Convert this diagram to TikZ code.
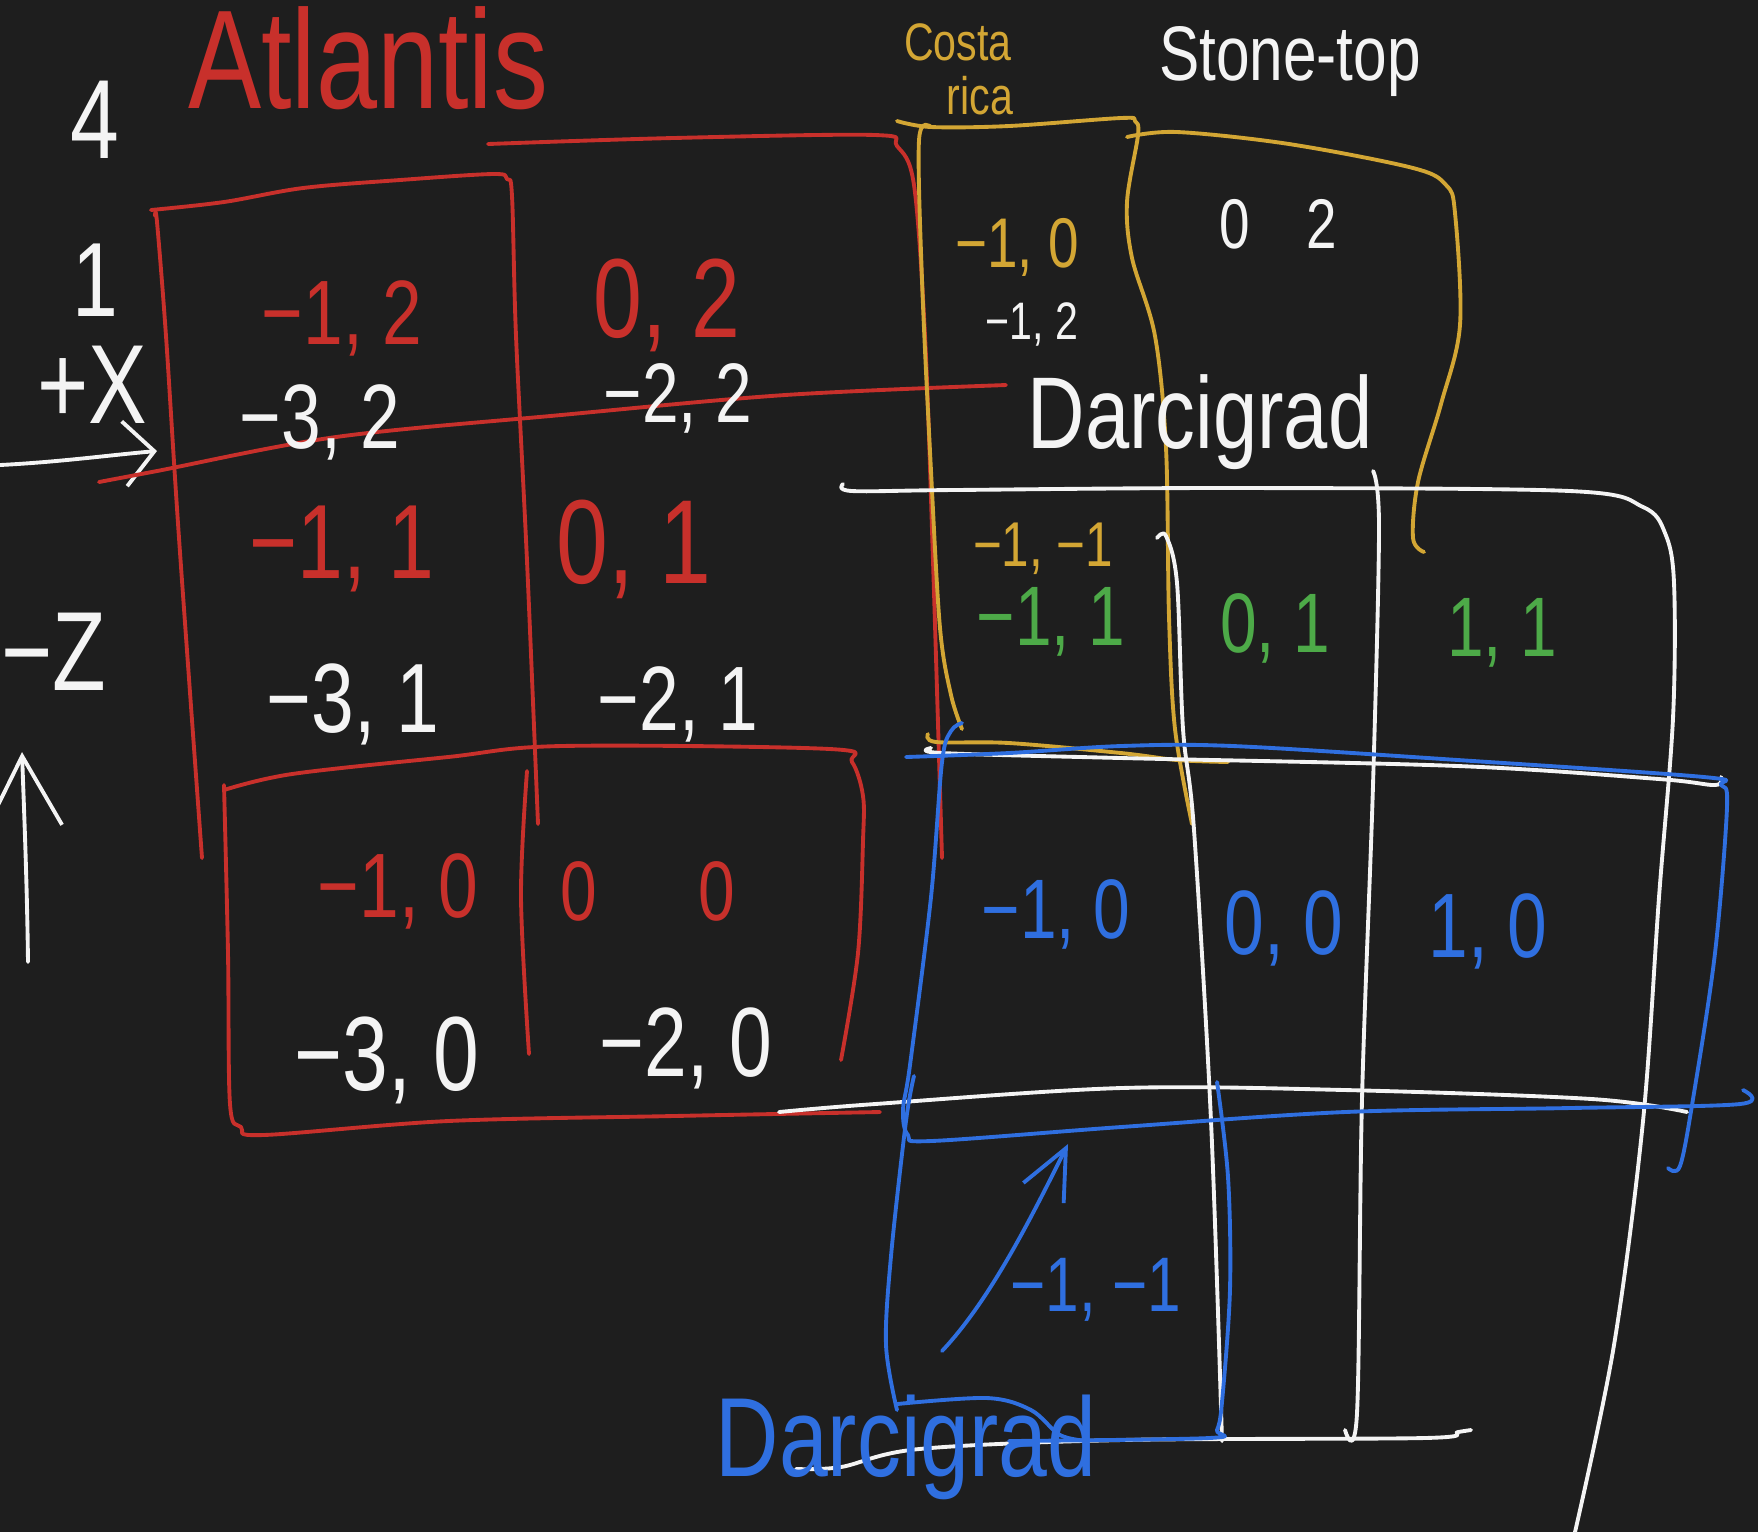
\documentclass[tikz,border=0pt]{standalone}
\usepackage{fontspec}
\newfontfamily\hand[FakeStretch=0.78]{Liberation Sans}
\newcommand{\inksize}[1]{\fontsize{#1}{#1}\selectfont}
\usetikzlibrary{arrows.meta}
\definecolor{board}{HTML}{1E1E1E}
\definecolor{penred}{HTML}{C8302B}
\definecolor{pengold}{HTML}{D3A634}
\definecolor{pengreen}{HTML}{4DAA48}
\definecolor{penblue}{HTML}{2F6FE0}
\definecolor{penwhite}{HTML}{F4F4F4}
\begin{document}
\begin{tikzpicture}[x=0.01cm, y=-0.01cm, % 一个单位 = 参考图的一个像素
    every node/.style={inner sep=0pt}, % 文字节点不留边距
    inkline/.style={line width=1.1pt, line cap=round, line join=round},
    redline/.style={inkline, draw=penred},
    goldline/.style={inkline, draw=pengold},
    blueline/.style={inkline, draw=penblue},
    whiteline/.style={inkline, draw=penwhite},
    lbl/.style={font={\hand\inksize{#1}}},
  ]
  % 背景与边界
  \useasboundingbox (0,0) rectangle (1758,1532);
  \fill[board] (0,0) rectangle (1758,1532);

  % 左侧坐标轴
  \coordinate (xtail) at (0,465);
  \coordinate (xtip) at (157,451);
  \draw[whiteline, -{Straight Barb[length=3mm, width=6.5mm]}] (xtail) .. controls (60,462) and (110,455) .. (xtip);
  \coordinate (ztail) at (28,962);
  \coordinate (ztip) at (22,752);
  \draw[whiteline, -{Straight Barb[length=7mm, width=7.5mm]}] (ztail) .. controls (27,880) and (24,810) .. (ztip);

  \node[lbl=32, text=penwhite] (four) at (95,120) {4};
  \node[lbl=30, text=penwhite] (one) at (95,280) {1};
  \node[lbl=32, text=penwhite] (plusx) at (92,385) {+X};
  \node[lbl=32, text=penwhite, anchor=west] (minusz) at (1,652) {−Z};

  % 红色: Atlantis 区块
  \node[lbl=40, text=penred] (atlantis) at (368,58) {Atlantis};
  \draw[redline] plot[smooth, tension=0.55] coordinates {(151,210) (224,202) (303,188) (400,180) (493,174) (507,179) (512,196) (516,336) (527,561) (538,824)};
  \draw[redline] plot[smooth, tension=0.55] coordinates {(155,216) (157,222) (166,336) (179,538) (202,858)};
  \draw[redline] plot[smooth, tension=0.55] coordinates {(488,144) (673,138) (875,135) (897,146) (914,185) (925,336) (933,561) (942,858)};
  \draw[redline] plot[smooth, tension=0.55] coordinates {(99,482) (157,471) (336,437) (561,415) (785,395) (1006,385)};
  \draw[redline] plot[smooth, tension=0.55] coordinates {(224,790) (292,774) (448,757) (561,746) (830,749) (852,762) (863,796) (863,841) (858,953) (841,1060)};
  \draw[redline] plot[smooth, tension=0.55] coordinates {(224,785) (228,953) (230,1104) (241,1127) (263,1135) (448,1121) (673,1116) (880,1112)};
  \draw[redline] plot[smooth, tension=0.55] coordinates {(527,771) (521,897) (529,1054)};

  \node[lbl=26, text=penred] (r12) at (342,318) {−1, 2};
  \node[lbl=32, text=penred] (r02) at (667,305) {0, 2};
  \node[lbl=30, text=penred] (r11) at (342,549) {−1, 1};
  \node[lbl=34, text=penred] (r01) at (634,549) {0, 1};
  \node[lbl=26, text=penred] (r10) at (398,891) {−1, 0};
  \node[lbl=24, text=penred] (r00) at (648,891) {0\hspace{1.2em}0};

  \node[lbl=26, text=penwhite] (w32) at (320,422) {−3, 2};
  \node[lbl=24, text=penwhite] (w22) at (678,398) {−2, 2};
  \node[lbl=28, text=penwhite] (w31) at (353,704) {−3, 1};
  \node[lbl=26, text=penwhite] (w21) at (678,704) {−2, 1};
  \node[lbl=30, text=penwhite] (w30) at (387,1060) {−3, 0};
  \node[lbl=28, text=penwhite] (w20) at (686,1048) {−2, 0};

  % 金色: Costa rica 与 Stone-top
  \node[lbl=15, text=pengold] (costa) at (958,42) {Costa};
  \node[lbl=15, text=pengold] (rica) at (980,96) {rica};
  \node[lbl=22, text=penwhite] (stonetop) at (1290,62) {Stone-top};
  \draw[goldline] plot[smooth, tension=0.55] coordinates {(897,121) (931,127) (1009,126) (1121,118) (1135,121) (1138,135) (1127,202) (1132,258) (1155,336) (1166,448) (1169,617) (1175,729) (1192,824)};
  \draw[goldline] plot[smooth, tension=0.55] coordinates {(931,127) (919,140) (922,280) (931,471) (940,628) (951,695) (962,729)};
  \draw[goldline] plot[smooth, tension=0.55] coordinates {(928,734) (936,742) (1009,743) (1121,753) (1177,760) (1228,762)};
  \draw[goldline] plot[smooth, tension=0.55] coordinates {(1127,137) (1177,132) (1289,144) (1413,168) (1446,185) (1455,213) (1460,325) (1441,404) (1418,482) (1413,538) (1424,552)};

  \node[lbl=20, text=pengold] (g10) at (1017,247) {−1, 0};
  \node[lbl=18, text=pengold] (g1m1) at (1043,549) {−1, −1};
  \node[lbl=20, text=penwhite] (top02) at (1278,224) {0\hspace{0.8em}2};
  \node[lbl=15, text=penwhite] (wsmall) at (1032,324) {−1, 2};
  \node[lbl=29, text=penwhite] (darcitop) at (1200,422) {Darcigrad};

  % 白色网格
  \draw[whiteline] plot[smooth, tension=0.55] coordinates {(843,484) (852,491) (953,490) (1233,488) (1570,491) (1643,507) (1665,533) (1674,583) (1673,718) (1659,897) (1643,1121) (1614,1345) (1575,1532)};
  \draw[whiteline] plot[smooth, tension=0.55] coordinates {(1157,538) (1166,536) (1177,583) (1183,729) (1194,830) (1211,1121) (1222,1441)};
  \draw[whiteline] plot[smooth, tension=0.55] coordinates {(1373,471) (1379,527) (1373,785) (1362,1099) (1357,1413) (1345,1430)};
  \draw[whiteline] plot[smooth, tension=0.55] coordinates {(931,748) (942,753) (1121,758) (1458,766) (1659,779) (1715,785) (1721,777)};
  \draw[whiteline] plot[smooth, tension=0.55] coordinates {(779,1112) (875,1104) (1121,1088) (1345,1090) (1592,1099) (1687,1112)};
  \draw[whiteline] plot[smooth, tension=0.55] coordinates {(796,1469) (841,1467) (919,1449) (1121,1440) (1424,1438) (1458,1432) (1471,1430)};

  \node[lbl=24, text=pengreen] (gr11) at (1051,622) {−1, 1};
  \node[lbl=24, text=pengreen] (gr01) at (1275,628) {0, 1};
  \node[lbl=24, text=pengreen] (gr1p1) at (1502,633) {1, 1};

  % 蓝色: 下方的 Darcigrad
  \draw[blueline] plot[smooth, tension=0.55] coordinates {(962,723) (951,731) (942,762) (931,897) (910,1065) (903,1110) (908,1135) (931,1141) (1121,1127) (1345,1112) (1570,1108) (1740,1104) (1743,1090)};
  \draw[blueline] plot[smooth, tension=0.55] coordinates {(906,757) (1009,753) (1121,746) (1233,746) (1458,760) (1704,777) (1721,785) (1727,807) (1715,953) (1693,1099) (1680,1166) (1668,1168)};
  \draw[blueline] plot[smooth, tension=0.55] coordinates {(914,1076) (906,1121) (891,1256) (886,1345) (897,1410)};
  \draw[blueline] plot[smooth, tension=0.55] coordinates {(1217,1082) (1228,1177) (1230,1289) (1222,1402) (1217,1430) (1209,1438) (1009,1441)};
  \draw[blueline] plot[smooth, tension=0.55] coordinates {(897,1404) (987,1398) (1031,1410) (1060,1435) (1088,1441)};
  \coordinate (bluetail) at (942,1351);
  \coordinate (bluetip) at (1068,1144);
  \draw[blueline, -{Straight Barb[length=5mm, width=4.5mm]}] (bluetail) .. controls (990,1300) and (1030,1220) .. (bluetip);

  \node[lbl=24, text=penblue] (b10) at (1056,914) {−1, 0};
  \node[lbl=26, text=penblue] (b00) at (1284,928) {0, 0};
  \node[lbl=26, text=penblue] (b1) at (1488,931) {1, 0};
  \node[lbl=22, text=penblue] (bm1m1) at (1096,1290) {−1, −1};
  \node[lbl=32, text=penblue] (darcibot) at (906,1447) {Darcigrad};
\end{tikzpicture}
\end{document}
